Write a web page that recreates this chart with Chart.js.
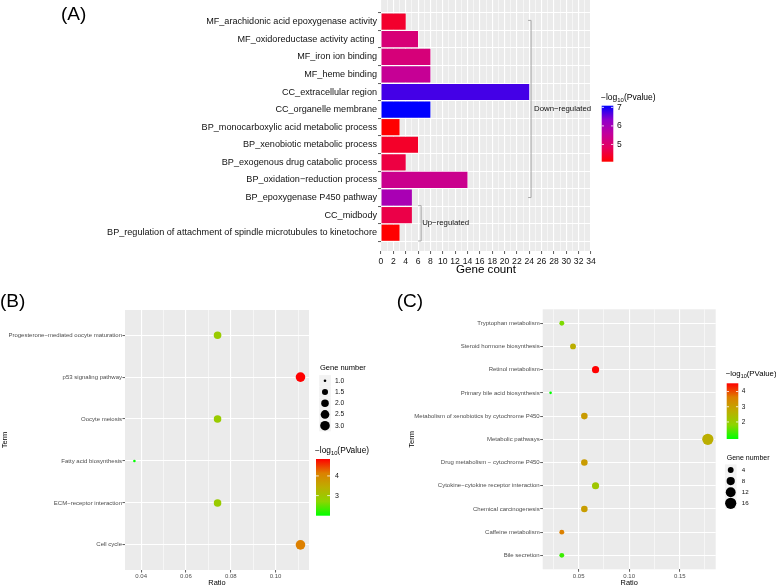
<!DOCTYPE html>
<html>
<head>
<meta charset="utf-8">
<script src="https://cdn.jsdelivr.net/npm/chart.js@4.4.1/dist/chart.umd.min.js"></script>
<style>
  html, body { margin: 0; padding: 0; background: #fff; }
  body { width: 776px; height: 586px; position: relative; overflow: hidden; }
  canvas { position: absolute; }
</style>
</head>
<body>
<canvas id="chartA" width="776" height="280" style="left:0px;top:0px"></canvas>
<canvas id="chartB" width="380" height="310" style="left:0px;top:280px"></canvas>
<canvas id="chartC" width="396" height="310" style="left:380px;top:280px"></canvas>
<script>
// ---- panel A data ----
const termsA = [
    'MF_arachidonic acid epoxygenase activity',
    'MF_oxidoreductase activity acting ',
    'MF_iron ion binding',
    'MF_heme binding',
    'CC_extracellular region',
    'CC_organelle membrane',
    'BP_monocarboxylic acid metabolic process',
    'BP_xenobiotic metabolic process',
    'BP_exogenous drug catabolic process',
    'BP_oxidation\u2212reduction process',
    'BP_epoxygenase P450 pathway',
    'CC_midbody',
    'BP_regulation of attachment of spindle microtubules to kinetochore'
];
const geneCountA = [4, 6, 8, 8, 24, 8, 3, 6, 4, 14, 5, 5, 3];
const logPA = [4.43, 5.13, 5.15, 5.5, 6.73, 7.09, 4.07, 4.4, 4.6, 5.4, 5.95, 4.65, 4.07];
const countTicksA = [0, 2, 4, 6, 8, 10, 12, 14, 16, 18, 20, 22, 24, 26, 28, 30, 32, 34];
const logPTicksA = [5, 6, 7];
const groupsA = [
    { label: 'Down\u2212regulated', at: 24.3, from: 0.93, to: 11 },
    { label: 'Up\u2212regulated', at: 6.5, from: 11.46, to: 13.47 }
];

// ---- panel B data ----
const termsB = [
    'Progesterone\u2212mediated oocyte maturation',
    'p53 signaling pathway',
    'Oocyte meiosis',
    'Fatty acid biosynthesis',
    'ECM\u2212receptor interaction',
    'Cell cycle'
];
const ratioB = [0.0741, 0.1111, 0.0741, 0.037, 0.0741, 0.1111];
const geneNumB = [2, 3, 2, 1, 2, 3];
const logPB = [2.9, 4.86, 2.9, 1.98, 2.9, 4.14];
const ratioTicksB = [0.04, 0.06, 0.08, 0.10];
const sizeTicksB = [1.0, 1.5, 2.0, 2.5, 3.0];
const logPTicksB = [3, 4];

// ---- panel C data ----
const termsC = [
    'Tryptophan metabolism',
    'Steroid hormone biosynthesis',
    'Retinol metabolism',
    'Primary bile acid biosynthesis',
    'Metabolism of xenobiotics by cytochrome P450',
    'Metabolic pathways',
    'Drug metabolism \u2212 cytochrome P450',
    'Cytokine\u2212cytokine receptor interaction',
    'Chemical carcinogenesis',
    'Caffeine metabolism',
    'Bile secretion'
];
const ratioC = [0.0333, 0.0444, 0.0667, 0.0222, 0.0556, 0.1778, 0.0556, 0.0667, 0.0556, 0.0333, 0.0333];
const geneNumC = [3, 4, 6, 2, 5, 16, 5, 6, 5, 3, 3];
const logPC = [1.7, 2.7, 4.54, 0.88, 3.08, 2.7, 3.08, 2.16, 3.05, 3.6, 1.25];
const ratioTicksC = [0.05, 0.10, 0.15];
const sizeTicksC = [4, 8, 12, 16];
const logPTicksC = [2, 3, 4];

// ---- helpers ----
const FONT = '"Liberation Sans", Arial, Helvetica, sans-serif';
const redBlue = ['#ff0000', '#e5005e', '#c2009c', '#8e00cc', '#0000ff'];
const greenRed = ['#00ff00', '#8cd600', '#bcae00', '#dd8000', '#ff0000'];

function hexToRgb(h) {
    return [parseInt(h.slice(1, 3), 16), parseInt(h.slice(3, 5), 16), parseInt(h.slice(5, 7), 16)];
}

function colorFor(stops, v, lo, hi) {
    let t = (v - lo) / (hi - lo);
    t = Math.max(0, Math.min(1, t));
    const seg = t * (stops.length - 1);
    const i = Math.min(Math.floor(seg), stops.length - 2);
    const f = seg - i;
    const a = hexToRgb(stops[i]), b = hexToRgb(stops[i + 1]);
    const c = a.map((av, k) => Math.round(av + (b[k] - av) * f));
    return `rgb(${c[0]},${c[1]},${c[2]})`;
}

// area-like size scale, rMax is the extra radius at the top of the range
function radiusFor(n, lo, hi, rMax) {
    return 1.3 + rMax * Math.sqrt((n - lo) / (hi - lo));
}

// major ticks plus minor ones half way between, inside [lo, hi]
function withMinor(major, lo, hi) {
    const step = (major[1] - major[0]) / 2;
    const out = [];
    for (let v = major[0] - step * 4; v <= hi + 1e-9; v += step) {
        if (v >= lo - 1e-9) out.push(Math.round(v * 10000) / 10000);
    }
    return out;
}

const isIn = (arr, v) => arr.some(m => Math.abs(m - v) < 1e-7);

function drawLogTitle(ctx, x, y, size, word) {
    ctx.save();
    ctx.fillStyle = '#000';
    ctx.textAlign = 'left';
    ctx.textBaseline = 'alphabetic';
    ctx.font = `${size}px ${FONT}`;
    const s = '\u2212log';
    ctx.fillText(s, x, y);
    x += ctx.measureText(s).width;
    ctx.font = `${size * 0.7}px ${FONT}`;
    ctx.fillText('10', x, y + size * 0.25);
    x += ctx.measureText('10').width;
    ctx.font = `${size}px ${FONT}`;
    ctx.fillText('(' + word + ')', x, y);
    ctx.restore();
}

function drawColorbar(ctx, o) {
    ctx.save();
    const g = ctx.createLinearGradient(0, o.y + o.h, 0, o.y);
    for (let k = 0; k <= 20; k++) {
        g.addColorStop(k / 20, colorFor(o.stops, o.lo + (o.hi - o.lo) * k / 20, o.lo, o.hi));
    }
    ctx.fillStyle = g;
    ctx.fillRect(o.x, o.y, o.w, o.h);
    ctx.strokeStyle = '#fff';
    ctx.lineWidth = 0.8;
    ctx.fillStyle = '#111';
    ctx.font = `${o.font}px ${FONT}`;
    ctx.textBaseline = 'middle';
    ctx.textAlign = 'left';
    o.ticks.forEach(v => {
        const py = o.y + o.h - (v - o.lo) / (o.hi - o.lo) * o.h;
        ctx.beginPath();
        ctx.moveTo(o.x, py); ctx.lineTo(o.x + o.w / 5, py);
        ctx.moveTo(o.x + o.w - o.w / 5, py); ctx.lineTo(o.x + o.w, py);
        ctx.stroke();
        ctx.fillText(String(v), o.labelX, py);
    });
    ctx.restore();
}

function drawSizeLegend(ctx, o) {
    ctx.save();
    ctx.fillStyle = '#000';
    ctx.font = `${o.titleFont}px ${FONT}`;
    ctx.textBaseline = 'middle';
    ctx.textAlign = 'left';
    ctx.fillText('Gene number', o.x, o.titleY);
    o.values.forEach((v, i) => {
        const py = o.y + i * o.gap;
        ctx.fillStyle = '#f2f2f2';
        ctx.fillRect(o.dotX - 5.8, py - 5.6, 11.6, 11.2);
        ctx.fillStyle = '#000';
        ctx.beginPath();
        ctx.arc(o.dotX, py, radiusFor(v, o.lo, o.hi, o.rMax), 0, Math.PI * 2);
        ctx.fill();
        ctx.font = `${o.font}px ${FONT}`;
        ctx.fillStyle = '#111';
        ctx.fillText(o.fmt(v), o.labelX, py);
    });
    ctx.restore();
}

const panelBg = {
    id: 'panelBg',
    beforeDraw(chart) {
        const { ctx, chartArea: a } = chart;
        ctx.save();
        ctx.fillStyle = '#ebebeb';
        ctx.fillRect(a.left, a.top, a.right - a.left, a.bottom - a.top);
        ctx.restore();
    }
};

function panelLabel(text, x, y) {
    return {
        id: 'panelLabel',
        afterDraw(chart) {
            const ctx = chart.ctx;
            ctx.save();
            ctx.fillStyle = '#000';
            ctx.font = `19px ${FONT}`;
            ctx.textBaseline = 'middle';
            ctx.textAlign = 'left';
            ctx.fillText(text, x, y);
            ctx.restore();
        }
    };
}

function zeroPad(s) { s.paddingLeft = 0; s.paddingRight = 0; s.paddingTop = 0; s.paddingBottom = 0; }

// ---- panel A ----
const loA = Math.min(...logPA), hiA = Math.max(...logPA);
const xTicksA = withMinor(countTicksA, 0, 34);

const groupsPlugin = {
    id: 'groupsA',
    afterDatasetsDraw(chart) {
        const { ctx, scales: { x, y } } = chart;
        ctx.save();
        ctx.strokeStyle = '#a8a8a8';
        ctx.lineWidth = 1;
        ctx.fillStyle = '#111';
        ctx.font = `7.8px ${FONT}`;
        ctx.textBaseline = 'middle';
        ctx.textAlign = 'left';
        groupsA.forEach((g, i) => {
            const px = x.getPixelForValue(g.at);
            const y0 = y.getPixelForValue(g.from), y1 = y.getPixelForValue(g.to);
            ctx.beginPath();
            ctx.moveTo(px - 3, y0); ctx.lineTo(px, y0); ctx.lineTo(px, y1); ctx.lineTo(px - 3, y1);
            ctx.stroke();
            ctx.fillText(g.label, px + (i === 0 ? 3 : 1), (y0 + y1) / 2);
        });
        ctx.restore();
    },
    afterDraw(chart) {
        const ctx = chart.ctx;
        drawLogTitle(ctx, 601, 100, 8.5, 'Pvalue');
        drawColorbar(ctx, { x: 601.7, y: 105.7, w: 11.6, h: 56, lo: loA, hi: hiA, stops: redBlue,
            ticks: logPTicksA, font: 8.5, labelX: 617 });
    }
};

new Chart(document.getElementById('chartA'), {
    type: 'bar',
    data: {
        datasets: [{
            data: geneCountA.map((v, i) => ({ x: v, y: i + 1 })),
            backgroundColor: logPA.map(v => colorFor(redBlue, v, loA, hiA)),
            borderWidth: 0,
            barPercentage: 0.92,
            categoryPercentage: 1
        }]
    },
    options: {
        indexAxis: 'y',
        responsive: false,
        animation: false,
        events: [],
        layout: { padding: { left: 0, right: 185, top: 0, bottom: 0 } },
        plugins: { legend: { display: false }, tooltip: { enabled: false } },
        scales: {
            x: {
                type: 'linear', min: 0, max: 34, bounds: 'data',
                afterBuildTicks: s => { s.ticks = xTicksA.map(v => ({ value: v })); },
                afterFit: s => { s.height = 29; zeroPad(s); },
                ticks: {
                    autoSkip: false, maxRotation: 0, padding: 2,
                    color: '#111', font: { family: FONT, size: 8.6 },
                    callback: v => (isIn(countTicksA, v) ? String(v) : '')
                },
                grid: {
                    color: '#fff',
                    lineWidth: c => (isIn(countTicksA, c.tick.value) ? 1.1 : 0.55),
                    tickLength: 3,
                    tickColor: c => (isIn(countTicksA, c.tick.value) ? '#333' : 'rgba(0,0,0,0)'),
                    tickWidth: 0.8
                },
                border: { display: false },
                title: { display: true, text: 'Gene count', color: '#000',
                    font: { family: FONT, size: 11.6 }, padding: { top: 0, bottom: 3 } }
            },
            y: {
                type: 'linear', min: 0.32, max: 13.49, reverse: true, bounds: 'data',
                afterBuildTicks: s => { s.ticks = termsA.map((t, i) => ({ value: i + 1 })); },
                afterFit: s => { s.width = 381; zeroPad(s); },
                ticks: {
                    autoSkip: false, padding: 1,
                    color: '#111', font: { family: FONT, size: 9.1 },
                    callback: v => termsA[Math.round(v) - 1]
                },
                grid: { color: '#fff', lineWidth: 1.1, tickLength: 3, tickColor: '#333', tickWidth: 0.8 },
                border: { display: false }
            }
        }
    },
    plugins: [panelBg, groupsPlugin, panelLabel('(A)', 61, 15)]
});

// ---- dot panels B and C ----
function dotChart(id, cfg) {
    const lo = Math.min(...cfg.logP), hi = Math.max(...cfg.logP);
    const nLo = Math.min(...cfg.sizeTicks, ...cfg.geneNum), nHi = Math.max(...cfg.sizeTicks, ...cfg.geneNum);
    const xTicks = withMinor(cfg.ratioTicks, cfg.xMin, cfg.xMax);
    const legendPlugin = {
        id: 'legends' + id,
        afterDraw(chart) {
            const ctx = chart.ctx;
            drawLogTitle(ctx, cfg.cbar.x - 1, cfg.cbar.titleY, cfg.legendFont + 0.8, 'PValue');
            drawColorbar(ctx, { x: cfg.cbar.x, y: cfg.cbar.y, w: cfg.cbar.w, h: cfg.cbar.h, lo, hi,
                stops: greenRed, ticks: cfg.logPTicks, font: cfg.legendFont - 0.5, labelX: cfg.cbar.labelX });
            drawSizeLegend(ctx, Object.assign({ values: cfg.sizeTicks, lo: nLo, hi: nHi, rMax: cfg.rMax,
                titleFont: cfg.legendFont, font: cfg.legendFont - 0.8, fmt: cfg.sizeFmt }, cfg.size));
        }
    };
    return new Chart(document.getElementById(id), {
        type: 'scatter',
        data: {
            datasets: [{
                data: cfg.terms.map((t, i) => ({ x: cfg.ratio[i], y: i + 1 })),
                pointRadius: cfg.geneNum.map(n => radiusFor(n, nLo, nHi, cfg.rMax)),
                backgroundColor: cfg.logP.map(v => colorFor(greenRed, v, lo, hi)),
                borderWidth: 0
            }]
        },
        options: {
            responsive: false,
            animation: false,
            events: [],
            layout: { padding: cfg.padding },
            plugins: { legend: { display: false }, tooltip: { enabled: false } },
            scales: {
                x: {
                    type: 'linear', min: cfg.xMin, max: cfg.xMax, bounds: 'data',
                    afterBuildTicks: s => { s.ticks = xTicks.map(v => ({ value: v })); },
                    afterFit: s => { s.height = cfg.xHeight; zeroPad(s); },
                    ticks: {
                        autoSkip: false, maxRotation: 0, padding: 0.5,
                        color: '#4d4d4d', font: { family: FONT, size: 6 },
                        callback: v => (isIn(cfg.ratioTicks, v) ? v.toFixed(2) : '')
                    },
                    grid: {
                        color: '#fff',
                        lineWidth: c => (isIn(cfg.ratioTicks, c.tick.value) ? 1.1 : 0.55),
                        tickLength: 2.5,
                        tickColor: c => (isIn(cfg.ratioTicks, c.tick.value) ? '#333' : 'rgba(0,0,0,0)'),
                        tickWidth: 0.8
                    },
                    border: { display: false },
                    title: { display: true, text: 'Ratio', color: '#000',
                        font: { family: FONT, size: 7.4 }, padding: { top: 0, bottom: cfg.ratioPad } }
                },
                y: {
                    type: 'linear', min: 0.4, max: cfg.terms.length + 0.6, reverse: true, bounds: 'data',
                    afterBuildTicks: s => { s.ticks = cfg.terms.map((t, i) => ({ value: i + 1 })); },
                    afterFit: s => { s.width = cfg.yWidth; zeroPad(s); },
                    ticks: {
                        autoSkip: false, padding: 0.5,
                        color: '#4d4d4d', font: { family: FONT, size: 6 },
                        callback: v => cfg.terms[Math.round(v) - 1]
                    },
                    grid: { color: '#fff', lineWidth: 1.1, tickLength: 2.5, tickColor: '#333', tickWidth: 0.8 },
                    border: { display: false },
                    title: { display: true, text: 'Term', color: '#000',
                        font: { family: FONT, size: 7.5 }, padding: { top: cfg.termPad, bottom: 0 } }
                }
            }
        },
        plugins: [panelBg, legendPlugin, panelLabel(cfg.label, cfg.labelX, 22)]
    });
}

dotChart('chartB', {
    terms: termsB, ratio: ratioB, geneNum: geneNumB, logP: logPB,
    ratioTicks: ratioTicksB, sizeTicks: sizeTicksB, logPTicks: logPTicksB,
    xMin: 0.0328, xMax: 0.1149,
    padding: { left: 0, right: 71, top: 30, bottom: 0 },
    yWidth: 125, xHeight: 20, termPad: 0.5, ratioPad: 2.6,
    label: '(B)', labelX: 0,
    legendFont: 7.5, rMax: 3.5,
    sizeFmt: v => v.toFixed(1),
    cbar: { x: 316, y: 179, w: 14, h: 56.7, titleY: 173, labelX: 335 },
    size: { x: 320, titleY: 87.5, y: 100.7, gap: 11.25, dotX: 325, labelX: 335 }
});

dotChart('chartC', {
    terms: termsC, ratio: ratioC, geneNum: geneNumC, logP: logPC,
    ratioTicks: ratioTicksC, sizeTicks: sizeTicksC, logPTicks: logPTicksC,
    xMin: 0.0144, xMax: 0.1856,
    padding: { left: 0, right: 60.3, top: 29.3, bottom: 0 },
    yWidth: 162.7, xHeight: 20.7, termPad: 27.2, ratioPad: 2.6,
    label: '(C)', labelX: 16.7,
    legendFont: 7, rMax: 4.3,
    sizeFmt: v => String(v),
    cbar: { x: 346.7, y: 103.3, w: 11.6, h: 55.7, titleY: 96, labelX: 361.7 },
    size: { x: 346.7, titleY: 177.7, y: 190, gap: 11.1, dotX: 350.7, labelX: 361.7 }
});
</script>
</body>
</html>
